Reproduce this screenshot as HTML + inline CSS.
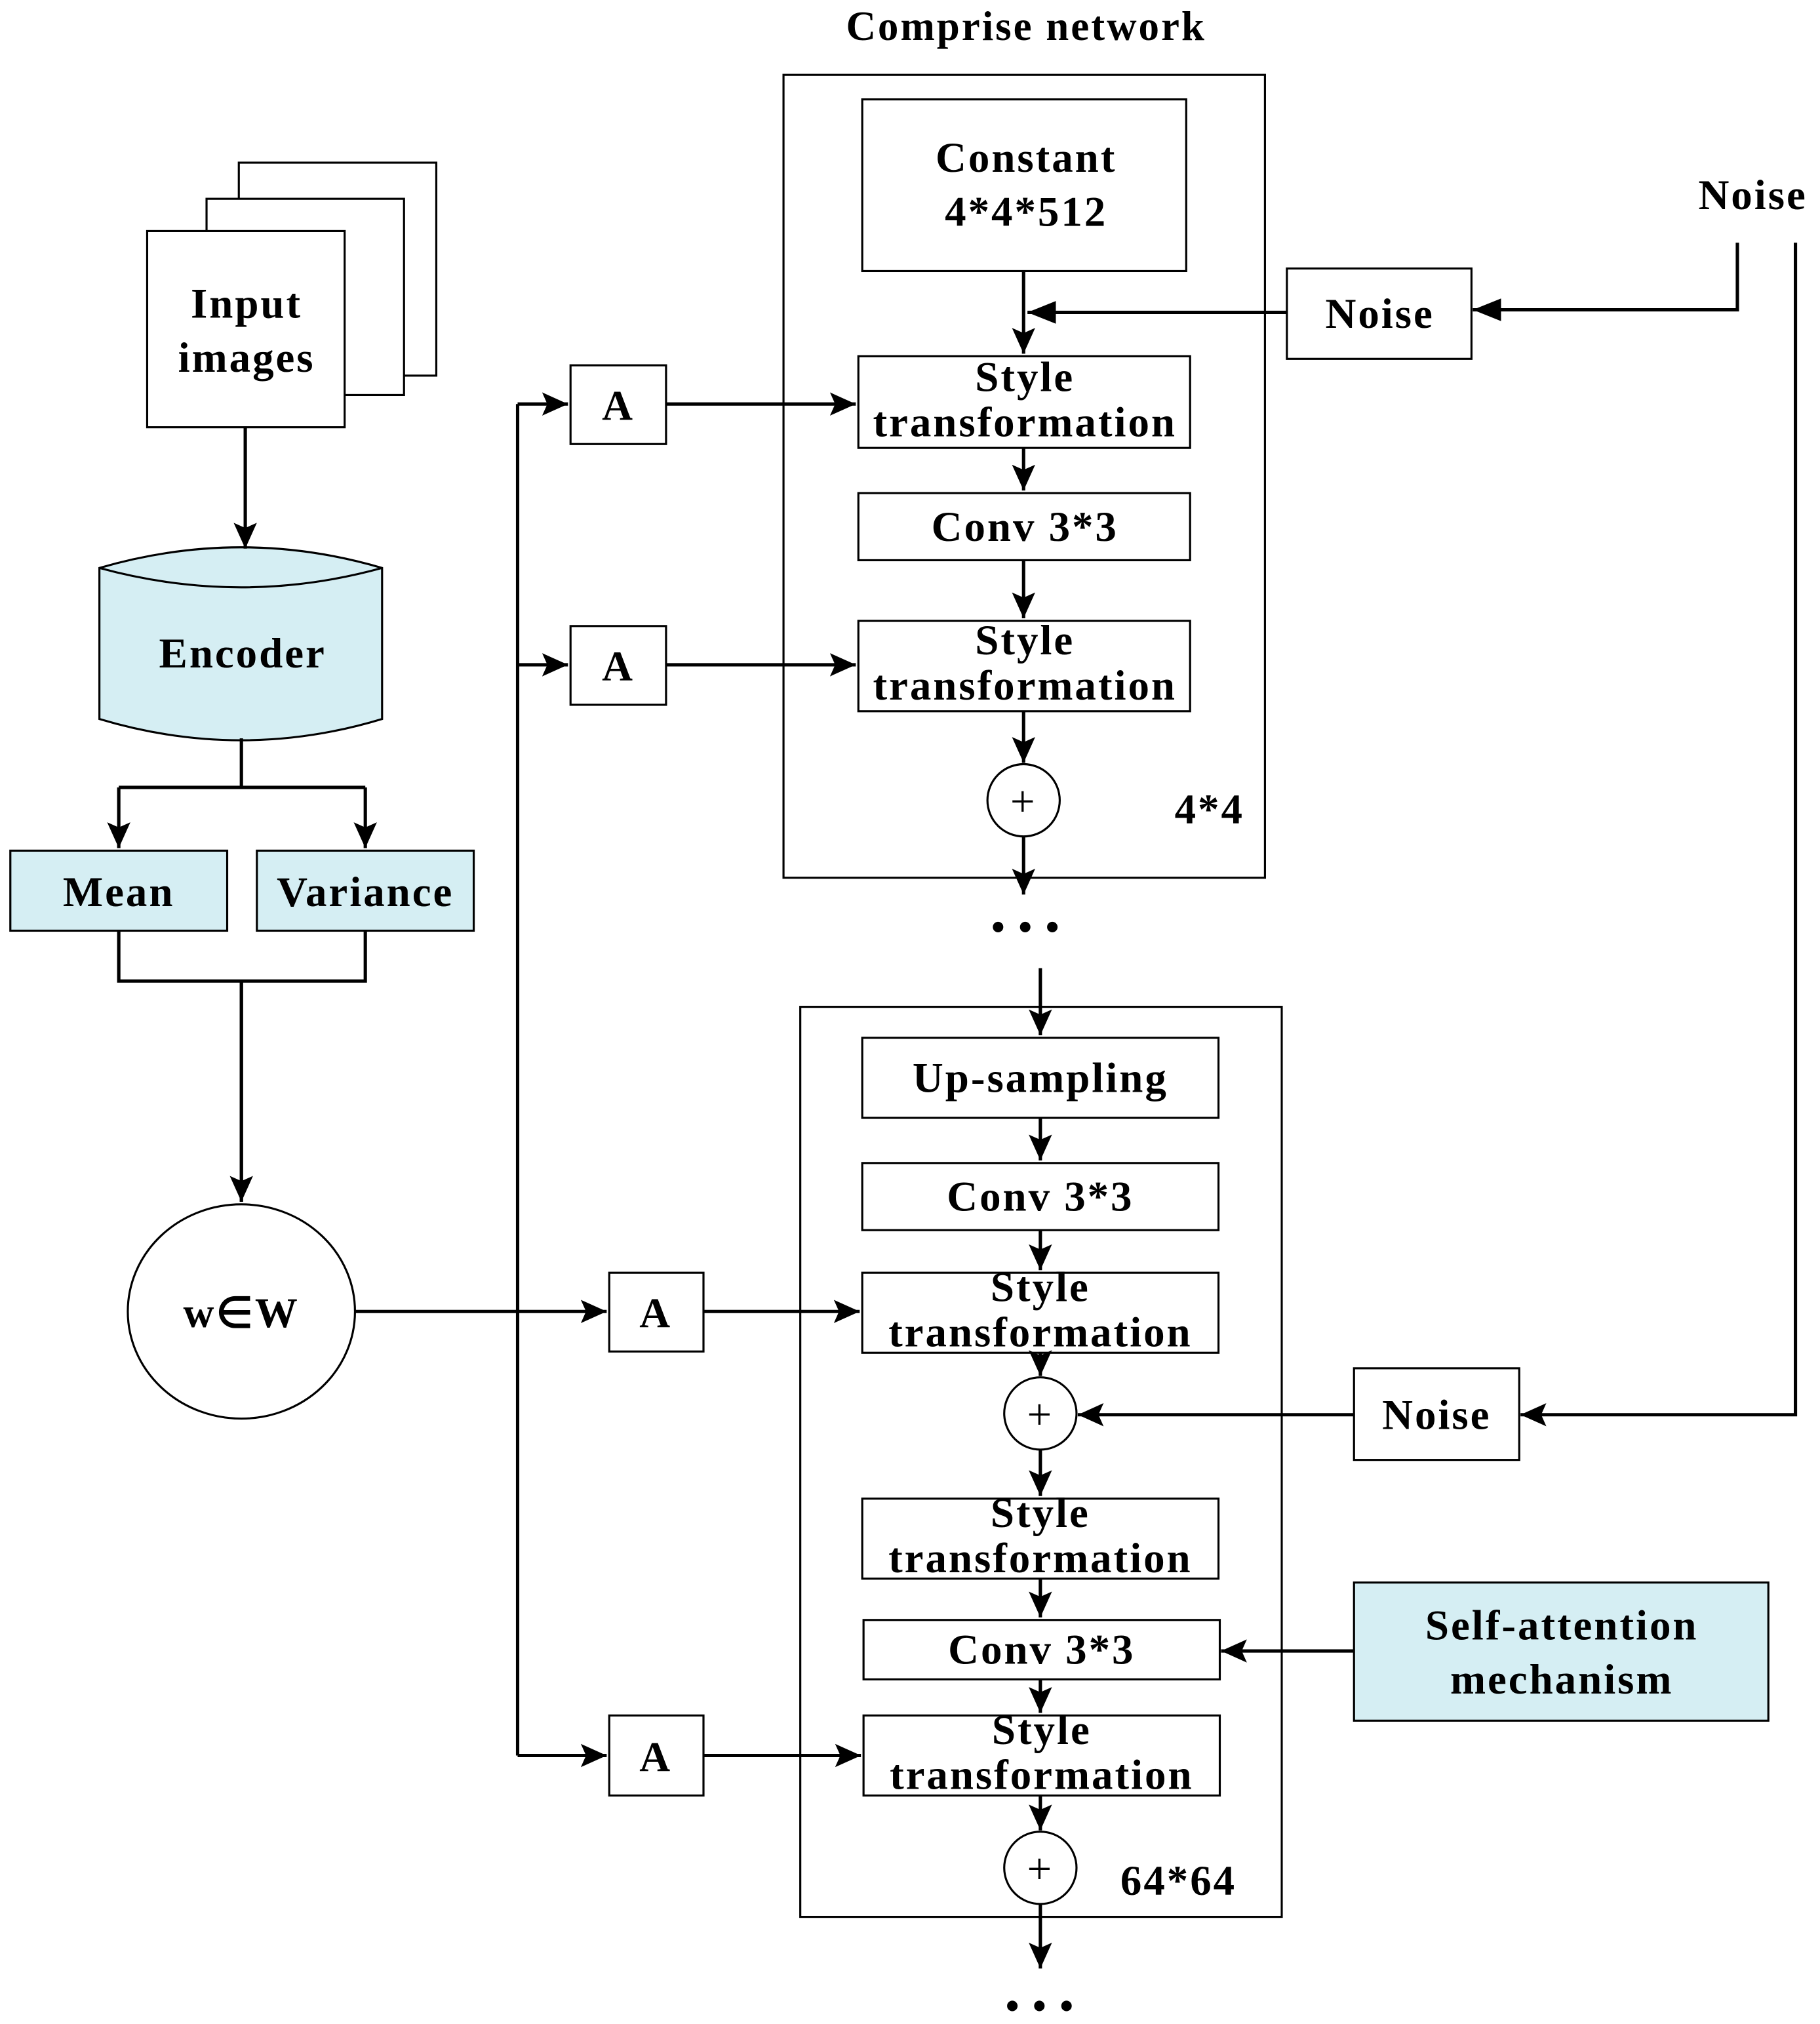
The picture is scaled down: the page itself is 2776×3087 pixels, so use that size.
<!DOCTYPE html>
<html><head><meta charset="utf-8"><style>
html,body{margin:0;padding:0;background:#fff;}
svg{display:block;}
text{font-family:"Liberation Serif",serif;font-weight:bold;fill:#000;text-anchor:middle;letter-spacing:1.5px;}
</style></head><body>
<svg width="2776" height="3087" viewBox="0 0 1410 1568" xmlns="http://www.w3.org/2000/svg">
<defs>
<marker id="ar" viewBox="0 0 10 10" refX="10" refY="5" markerWidth="20" markerHeight="20" markerUnits="userSpaceOnUse" orient="auto">
<path d="M0,0.5 L10,5 L0,9.5 L2,5 z" fill="#000"/></marker>
<marker id="ar2" viewBox="0 0 10 10" refX="10" refY="5" markerWidth="22" markerHeight="22" markerUnits="userSpaceOnUse" orient="auto">
<path d="M0,1 L10,5 L0,9 z" fill="#000"/></marker>
</defs>
<text x="795" y="31" font-size="32">Comprise network</text>
<g fill="#fff" stroke="#000" stroke-width="1.6">
<rect x="607" y="58" width="373" height="622"/>
<rect x="620" y="780" width="373" height="705"/>
<rect x="668" y="77" width="251" height="133"/>
<rect x="997" y="208" width="143" height="70"/>
<rect x="665" y="276" width="257" height="71"/>
<rect x="665" y="382" width="257" height="52"/>
<rect x="665" y="481" width="257" height="70"/>
<circle cx="793" cy="620" r="28"/>
<rect x="668" y="804" width="276" height="62"/>
<rect x="668" y="901" width="276" height="52"/>
<rect x="668" y="986" width="276" height="62"/>
<circle cx="806" cy="1095" r="28"/>
<rect x="1049" y="1060" width="128" height="71"/>
<rect x="668" y="1161" width="276" height="62"/>
<rect x="669" y="1255" width="276" height="46"/>
<rect x="1049" y="1226" width="321" height="107" fill="#d5eef3"/>
<rect x="669" y="1329" width="276" height="62"/>
<circle cx="806" cy="1447" r="28"/>
<rect x="185" y="126" width="153" height="165"/>
<rect x="160" y="154" width="153" height="152"/>
<rect x="114" y="179" width="153" height="152"/>
<path d="M77,440 Q187,408 296,440 L296,557 Q187,590 77,557 Z" fill="#d5eef3"/>
<path d="M77,440 Q187,470 296,440" fill="none"/>
<rect x="8" y="659" width="168" height="62" fill="#d5eef3"/>
<rect x="199" y="659" width="168" height="62" fill="#d5eef3"/>
<ellipse cx="187" cy="1016" rx="88" ry="83"/>
<rect x="442" y="283" width="74" height="61"/>
<rect x="442" y="485" width="74" height="61"/>
<rect x="472" y="986" width="73" height="61"/>
<rect x="472" y="1329" width="73" height="62"/>
</g>
<g fill="none" stroke="#000" stroke-width="2.6">
<path d="M793,210 V274" marker-end="url(#ar)"/>
<path d="M997,242 H796" marker-end="url(#ar2)"/>
<path d="M1346,188 V240 H1141" marker-end="url(#ar2)"/>
<path d="M793,347 V380" marker-end="url(#ar)"/>
<path d="M793,434 V479" marker-end="url(#ar)"/>
<path d="M793,551 V591" marker-end="url(#ar)"/>
<path d="M793,648 V693" marker-end="url(#ar)"/>
<path d="M806,750 V802" marker-end="url(#ar)"/>
<path d="M806,866 V899" marker-end="url(#ar)"/>
<path d="M806,953 V984" marker-end="url(#ar)"/>
<path d="M806,1048 V1066" marker-end="url(#ar)"/>
<path d="M806,1123 V1159" marker-end="url(#ar)"/>
<path d="M806,1223 V1253" marker-end="url(#ar)"/>
<path d="M806,1301 V1327" marker-end="url(#ar)"/>
<path d="M806,1391 V1418" marker-end="url(#ar)"/>
<path d="M806,1475 V1525" marker-end="url(#ar)"/>
<path d="M1049,1096 H835" marker-end="url(#ar)"/>
<path d="M1391,188 V1096 H1178" marker-end="url(#ar)"/>
<path d="M1049,1279 H946" marker-end="url(#ar)"/>
<path d="M190,331 V425" marker-end="url(#ar)"/>
<path d="M187,572 V610 M92,610 H283"/>
<path d="M92,610 V657" marker-end="url(#ar)"/>
<path d="M283,610 V657" marker-end="url(#ar)"/>
<path d="M92,721 V760 H283 V721 M187,760 V931"/>
<path d="M187,760 V931" marker-end="url(#ar)"/>
<path d="M275,1016 H470" marker-end="url(#ar)"/>
<path d="M401,1360 V313"/>
<path d="M401,313 H440" marker-end="url(#ar)"/>
<path d="M401,515 H440" marker-end="url(#ar)"/>
<path d="M401,1360 H470" marker-end="url(#ar)"/>
<path d="M516,313 H663" marker-end="url(#ar)"/>
<path d="M516,515 H663" marker-end="url(#ar)"/>
<path d="M545,1016 H666" marker-end="url(#ar)"/>
<path d="M545,1360 H667" marker-end="url(#ar)"/>
</g>
<g font-size="33">
<text x="795" y="133">Constant</text>
<text x="795" y="175">4*4*512</text>
<text x="1358" y="162">Noise</text>
<text x="1069" y="254">Noise</text>
<text x="794" y="303">Style</text>
<text x="794" y="338">transformation</text>
<text x="794" y="419">Conv 3*3</text>
<text x="794" y="507">Style</text>
<text x="794" y="542">transformation</text>
<text x="937" y="638">4*4</text>
<text x="795" y="728" font-size="30">• • •</text>
<text x="806" y="846">Up-sampling</text>
<text x="806" y="938">Conv 3*3</text>
<text x="806" y="1008">Style</text>
<text x="806" y="1043">transformation</text>
<text x="1113" y="1107">Noise</text>
<text x="806" y="1183">Style</text>
<text x="806" y="1218">transformation</text>
<text x="807" y="1289">Conv 3*3</text>
<text x="1210" y="1270">Self-attention</text>
<text x="1210" y="1312">mechanism</text>
<text x="807" y="1351">Style</text>
<text x="807" y="1386">transformation</text>
<text x="913" y="1468">64*64</text>
<text x="806" y="1564" font-size="30">• • •</text>
<text x="191" y="246">Input</text>
<text x="191" y="288">images</text>
<text x="188" y="517">Encoder</text>
<text x="92" y="702">Mean</text>
<text x="283" y="702">Variance</text>
<text x="187" y="1028">w∈W</text>
<text x="479" y="325">A</text>
<text x="479" y="527">A</text>
<text x="508" y="1028">A</text>
<text x="508" y="1372">A</text>
</g>
<g font-size="34">
<text x="793" y="632" style="font-weight:normal">+</text>
<text x="806" y="1107" style="font-weight:normal">+</text>
<text x="806" y="1459" style="font-weight:normal">+</text>
</g>
</svg>
</body></html>
